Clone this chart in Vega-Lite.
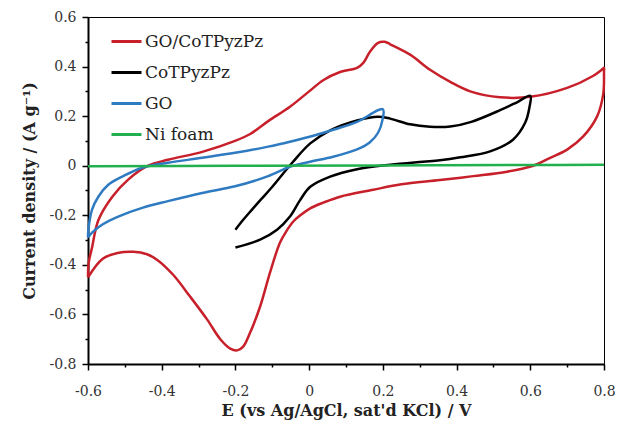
{
  "$schema": "https://vega.github.io/schema/vega-lite/v6.json",
  "width": 516,
  "height": 347,
  "autosize": "none",
  "padding": {"left": 88, "top": 17, "right": 13, "bottom": 63},
  "background": "white",
  "config": {
    "view": {"stroke": "black", "strokeWidth": 1},
    "font": "DejaVu Serif"
  },
  "data": {
    "values": [
      {"s": "GO/CoTPyzPz", "i": 1, "x": -0.6, "y": -0.45},
      {"s": "GO/CoTPyzPz", "i": 2, "x": -0.598, "y": -0.39},
      {"s": "GO/CoTPyzPz", "i": 3, "x": -0.589, "y": -0.33},
      {"s": "GO/CoTPyzPz", "i": 4, "x": -0.572, "y": -0.22},
      {"s": "GO/CoTPyzPz", "i": 5, "x": -0.534, "y": -0.125},
      {"s": "GO/CoTPyzPz", "i": 6, "x": -0.491, "y": -0.056},
      {"s": "GO/CoTPyzPz", "i": 7, "x": -0.437, "y": 0.0},
      {"s": "GO/CoTPyzPz", "i": 8, "x": -0.383, "y": 0.024},
      {"s": "GO/CoTPyzPz", "i": 9, "x": -0.29, "y": 0.056},
      {"s": "GO/CoTPyzPz", "i": 10, "x": -0.201, "y": 0.1},
      {"s": "GO/CoTPyzPz", "i": 11, "x": -0.16, "y": 0.128},
      {"s": "GO/CoTPyzPz", "i": 12, "x": -0.111, "y": 0.18},
      {"s": "GO/CoTPyzPz", "i": 13, "x": -0.052, "y": 0.238},
      {"s": "GO/CoTPyzPz", "i": 14, "x": 0.0, "y": 0.3},
      {"s": "GO/CoTPyzPz", "i": 15, "x": 0.038, "y": 0.345},
      {"s": "GO/CoTPyzPz", "i": 16, "x": 0.084, "y": 0.378},
      {"s": "GO/CoTPyzPz", "i": 17, "x": 0.13, "y": 0.395},
      {"s": "GO/CoTPyzPz", "i": 18, "x": 0.147, "y": 0.415},
      {"s": "GO/CoTPyzPz", "i": 19, "x": 0.165, "y": 0.46},
      {"s": "GO/CoTPyzPz", "i": 20, "x": 0.187, "y": 0.496},
      {"s": "GO/CoTPyzPz", "i": 21, "x": 0.205, "y": 0.5},
      {"s": "GO/CoTPyzPz", "i": 22, "x": 0.22, "y": 0.49},
      {"s": "GO/CoTPyzPz", "i": 23, "x": 0.274, "y": 0.448},
      {"s": "GO/CoTPyzPz", "i": 24, "x": 0.328, "y": 0.387},
      {"s": "GO/CoTPyzPz", "i": 25, "x": 0.383, "y": 0.338},
      {"s": "GO/CoTPyzPz", "i": 26, "x": 0.437, "y": 0.3},
      {"s": "GO/CoTPyzPz", "i": 27, "x": 0.518, "y": 0.276},
      {"s": "GO/CoTPyzPz", "i": 28, "x": 0.6, "y": 0.278},
      {"s": "GO/CoTPyzPz", "i": 29, "x": 0.7, "y": 0.314},
      {"s": "GO/CoTPyzPz", "i": 30, "x": 0.77, "y": 0.362},
      {"s": "GO/CoTPyzPz", "i": 31, "x": 0.796, "y": 0.39},
      {"s": "GO/CoTPyzPz", "i": 32, "x": 0.8, "y": 0.395},
      {"s": "GO/CoTPyzPz", "i": 33, "x": 0.8, "y": 0.38},
      {"s": "GO/CoTPyzPz", "i": 34, "x": 0.798, "y": 0.29},
      {"s": "GO/CoTPyzPz", "i": 35, "x": 0.781, "y": 0.198},
      {"s": "GO/CoTPyzPz", "i": 36, "x": 0.743, "y": 0.117},
      {"s": "GO/CoTPyzPz", "i": 37, "x": 0.7, "y": 0.065},
      {"s": "GO/CoTPyzPz", "i": 38, "x": 0.654, "y": 0.032},
      {"s": "GO/CoTPyzPz", "i": 39, "x": 0.608, "y": 0.0},
      {"s": "GO/CoTPyzPz", "i": 40, "x": 0.537, "y": -0.024},
      {"s": "GO/CoTPyzPz", "i": 41, "x": 0.445, "y": -0.042},
      {"s": "GO/CoTPyzPz", "i": 42, "x": 0.355, "y": -0.058},
      {"s": "GO/CoTPyzPz", "i": 43, "x": 0.25, "y": -0.075},
      {"s": "GO/CoTPyzPz", "i": 44, "x": 0.174, "y": -0.097},
      {"s": "GO/CoTPyzPz", "i": 45, "x": 0.084, "y": -0.125},
      {"s": "GO/CoTPyzPz", "i": 46, "x": 0.04, "y": -0.148},
      {"s": "GO/CoTPyzPz", "i": 47, "x": 0.003, "y": -0.172},
      {"s": "GO/CoTPyzPz", "i": 48, "x": -0.024, "y": -0.2},
      {"s": "GO/CoTPyzPz", "i": 49, "x": -0.043, "y": -0.225},
      {"s": "GO/CoTPyzPz", "i": 50, "x": -0.06, "y": -0.26},
      {"s": "GO/CoTPyzPz", "i": 51, "x": -0.079, "y": -0.31},
      {"s": "GO/CoTPyzPz", "i": 52, "x": -0.106, "y": -0.43},
      {"s": "GO/CoTPyzPz", "i": 53, "x": -0.133, "y": -0.568},
      {"s": "GO/CoTPyzPz", "i": 54, "x": -0.16, "y": -0.673},
      {"s": "GO/CoTPyzPz", "i": 55, "x": -0.179, "y": -0.73},
      {"s": "GO/CoTPyzPz", "i": 56, "x": -0.195, "y": -0.745},
      {"s": "GO/CoTPyzPz", "i": 57, "x": -0.214, "y": -0.738},
      {"s": "GO/CoTPyzPz", "i": 58, "x": -0.241, "y": -0.7},
      {"s": "GO/CoTPyzPz", "i": 59, "x": -0.277, "y": -0.62},
      {"s": "GO/CoTPyzPz", "i": 60, "x": -0.323, "y": -0.528},
      {"s": "GO/CoTPyzPz", "i": 61, "x": -0.369, "y": -0.44},
      {"s": "GO/CoTPyzPz", "i": 62, "x": -0.412, "y": -0.38},
      {"s": "GO/CoTPyzPz", "i": 63, "x": -0.44, "y": -0.357},
      {"s": "GO/CoTPyzPz", "i": 64, "x": -0.477, "y": -0.347},
      {"s": "GO/CoTPyzPz", "i": 65, "x": -0.52, "y": -0.352},
      {"s": "GO/CoTPyzPz", "i": 66, "x": -0.56, "y": -0.375},
      {"s": "GO/CoTPyzPz", "i": 67, "x": -0.6, "y": -0.45},

      {"s": "CoTPyzPz", "i": 1, "x": -0.2, "y": -0.258},
      {"s": "CoTPyzPz", "i": 2, "x": -0.18, "y": -0.22},
      {"s": "CoTPyzPz", "i": 3, "x": -0.155, "y": -0.177},
      {"s": "CoTPyzPz", "i": 4, "x": -0.13, "y": -0.135},
      {"s": "CoTPyzPz", "i": 5, "x": -0.1, "y": -0.085},
      {"s": "CoTPyzPz", "i": 6, "x": -0.046, "y": 0.012},
      {"s": "CoTPyzPz", "i": 7, "x": 0.003, "y": 0.09},
      {"s": "CoTPyzPz", "i": 8, "x": 0.057, "y": 0.143},
      {"s": "CoTPyzPz", "i": 9, "x": 0.13, "y": 0.183},
      {"s": "CoTPyzPz", "i": 10, "x": 0.187, "y": 0.198},
      {"s": "CoTPyzPz", "i": 11, "x": 0.22, "y": 0.19},
      {"s": "CoTPyzPz", "i": 12, "x": 0.274, "y": 0.167},
      {"s": "CoTPyzPz", "i": 13, "x": 0.328, "y": 0.157},
      {"s": "CoTPyzPz", "i": 14, "x": 0.383, "y": 0.158},
      {"s": "CoTPyzPz", "i": 15, "x": 0.44, "y": 0.177},
      {"s": "CoTPyzPz", "i": 16, "x": 0.518, "y": 0.224},
      {"s": "CoTPyzPz", "i": 17, "x": 0.564, "y": 0.256},
      {"s": "CoTPyzPz", "i": 18, "x": 0.6, "y": 0.282},
      {"s": "CoTPyzPz", "i": 19, "x": 0.598, "y": 0.238},
      {"s": "CoTPyzPz", "i": 20, "x": 0.586, "y": 0.173},
      {"s": "CoTPyzPz", "i": 21, "x": 0.553, "y": 0.105},
      {"s": "CoTPyzPz", "i": 22, "x": 0.491, "y": 0.058},
      {"s": "CoTPyzPz", "i": 23, "x": 0.41, "y": 0.034},
      {"s": "CoTPyzPz", "i": 24, "x": 0.355, "y": 0.022},
      {"s": "CoTPyzPz", "i": 25, "x": 0.309, "y": 0.016},
      {"s": "CoTPyzPz", "i": 26, "x": 0.22, "y": 0.004},
      {"s": "CoTPyzPz", "i": 27, "x": 0.13, "y": -0.014},
      {"s": "CoTPyzPz", "i": 28, "x": 0.057, "y": -0.044},
      {"s": "CoTPyzPz", "i": 29, "x": 0.003, "y": -0.085},
      {"s": "CoTPyzPz", "i": 30, "x": -0.025, "y": -0.14},
      {"s": "CoTPyzPz", "i": 31, "x": -0.052, "y": -0.205},
      {"s": "CoTPyzPz", "i": 32, "x": -0.087, "y": -0.258},
      {"s": "CoTPyzPz", "i": 33, "x": -0.133, "y": -0.298},
      {"s": "CoTPyzPz", "i": 34, "x": -0.2, "y": -0.33},

      {"s": "GO", "i": 1, "x": -0.6, "y": -0.29},
      {"s": "GO", "i": 2, "x": -0.599, "y": -0.258},
      {"s": "GO", "i": 3, "x": -0.589, "y": -0.177},
      {"s": "GO", "i": 4, "x": -0.572, "y": -0.125},
      {"s": "GO", "i": 5, "x": -0.545, "y": -0.077},
      {"s": "GO", "i": 6, "x": -0.507, "y": -0.044},
      {"s": "GO", "i": 7, "x": -0.453, "y": -0.008},
      {"s": "GO", "i": 8, "x": -0.383, "y": 0.012},
      {"s": "GO", "i": 9, "x": -0.29, "y": 0.032},
      {"s": "GO", "i": 10, "x": -0.201, "y": 0.052},
      {"s": "GO", "i": 11, "x": -0.111, "y": 0.077},
      {"s": "GO", "i": 12, "x": -0.052, "y": 0.097},
      {"s": "GO", "i": 13, "x": 0.016, "y": 0.123},
      {"s": "GO", "i": 14, "x": 0.07, "y": 0.147},
      {"s": "GO", "i": 15, "x": 0.13, "y": 0.177},
      {"s": "GO", "i": 16, "x": 0.2, "y": 0.228},
      {"s": "GO", "i": 17, "x": 0.199, "y": 0.185},
      {"s": "GO", "i": 18, "x": 0.187, "y": 0.133},
      {"s": "GO", "i": 19, "x": 0.165, "y": 0.095},
      {"s": "GO", "i": 20, "x": 0.13, "y": 0.066},
      {"s": "GO", "i": 21, "x": 0.065, "y": 0.036},
      {"s": "GO", "i": 22, "x": 0.003, "y": 0.016},
      {"s": "GO", "i": 23, "x": -0.052, "y": -0.004},
      {"s": "GO", "i": 24, "x": -0.111, "y": -0.042},
      {"s": "GO", "i": 25, "x": -0.201, "y": -0.083},
      {"s": "GO", "i": 26, "x": -0.29, "y": -0.11},
      {"s": "GO", "i": 27, "x": -0.383, "y": -0.143},
      {"s": "GO", "i": 28, "x": -0.453, "y": -0.17},
      {"s": "GO", "i": 29, "x": -0.518, "y": -0.205},
      {"s": "GO", "i": 30, "x": -0.562, "y": -0.238},
      {"s": "GO", "i": 31, "x": -0.589, "y": -0.27},
      {"s": "GO", "i": 32, "x": -0.6, "y": -0.29},

      {"s": "Ni foam", "i": 1, "x": -0.6, "y": -0.002},
      {"s": "Ni foam", "i": 2, "x": -0.2, "y": 0.0},
      {"s": "Ni foam", "i": 3, "x": 0.2, "y": 0.001},
      {"s": "Ni foam", "i": 4, "x": 0.6, "y": 0.003},
      {"s": "Ni foam", "i": 5, "x": 0.8, "y": 0.004}
    ]
  },
  "mark": {"type": "line", "strokeWidth": 2.5, "clip": false, "interpolate": "catmull-rom"},
  "encoding": {
    "x": {
      "field": "x", "type": "quantitative",
      "scale": {"domain": [-0.6, 0.8], "nice": false, "zero": false},
      "axis": {
        "title": "E  (vs Ag/AgCl, sat'd KCl) / V",
        "titleFont": "DejaVu Serif", "titleFontSize": 16, "titleFontWeight": "bold", "titleColor": "#222",
        "titlePadding": 4,
        "values": [-0.6, -0.5, -0.4, -0.3, -0.2, -0.1, 0, 0.1, 0.2, 0.3, 0.4, 0.5, 0.6, 0.7, 0.8],
        "labelExpr": "abs(round(datum.value*10))%2==0 ? (abs(datum.value)<1e-9 ? '0' : (datum.value<0 ? '-' : '') + format(abs(datum.value), '.1f')) : ''",
        "labelFont": "DejaVu Serif", "labelFontSize": 14, "labelColor": "#333",
        "labelPadding": 14, "labelFlush": false,
        "grid": false,
        "domainColor": "black", "domainWidth": 2,
        "tickColor": "black", "tickWidth": 1.5,
        "tickSize": {"condition": {"test": "abs(round(datum.value*10))%2==0", "value": 6}, "value": 3}
      }
    },
    "y": {
      "field": "y", "type": "quantitative",
      "scale": {"domain": [-0.8, 0.6], "nice": false, "zero": false},
      "axis": {
        "title": "Current density / (A g⁻¹)",
        "titleFont": "DejaVu Serif", "titleFontSize": 16, "titleFontWeight": "bold", "titleColor": "#222",
        "titlePadding": 12,
        "values": [-0.8, -0.7, -0.6, -0.5, -0.4, -0.3, -0.2, -0.1, 0, 0.1, 0.2, 0.3, 0.4, 0.5, 0.6],
        "labelExpr": "abs(round(datum.value*10))%2==0 ? (abs(datum.value)<1e-9 ? '0' : (datum.value<0 ? '-' : '') + format(abs(datum.value), '.1f')) : ''",
        "labelFont": "DejaVu Serif", "labelFontSize": 14, "labelColor": "#333",
        "labelPadding": 6, "labelFlush": false,
        "grid": false,
        "domainColor": "black", "domainWidth": 2,
        "tickColor": "black", "tickWidth": 1.5,
        "tickSize": {"condition": {"test": "abs(round(datum.value*10))%2==0", "value": 6}, "value": 3}
      }
    },
    "color": {
      "field": "s", "type": "nominal",
      "scale": {
        "domain": ["GO/CoTPyzPz", "CoTPyzPz", "GO", "Ni foam"],
        "range": ["#c8202a", "#000000", "#2f7bc2", "#22b04e"]
      },
      "legend": {
        "title": null,
        "orient": "none", "legendX": 22, "legendY": 8,
        "padding": 0,
        "symbolType": "stroke", "symbolSize": 900, "symbolStrokeWidth": 3,
        "labelFont": "DejaVu Serif", "labelFontSize": 17, "labelColor": "#222",
        "labelOffset": 2, "rowPadding": 6
      }
    },
    "order": {"field": "i", "type": "quantitative"}
  }
}
